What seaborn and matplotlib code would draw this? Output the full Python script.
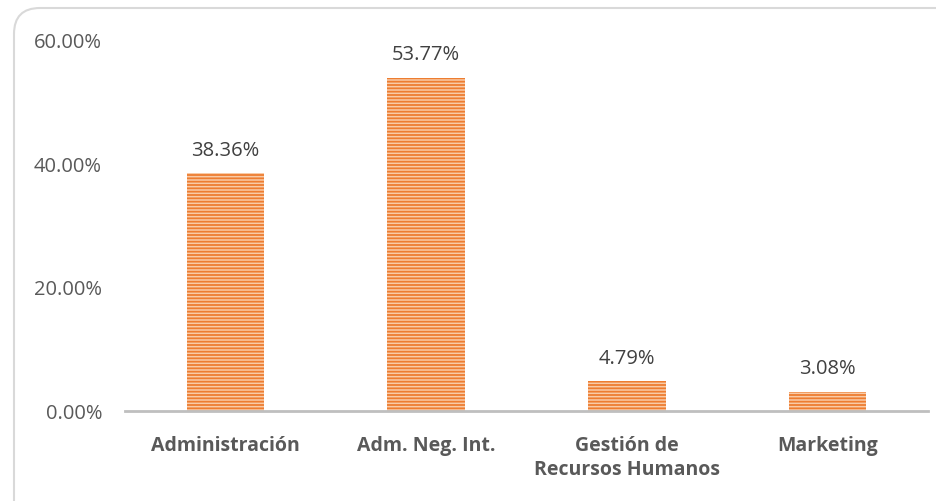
import matplotlib
matplotlib.use('Agg')
import matplotlib.pyplot as plt
import seaborn as sns
import pandas as pd
from matplotlib.patches import FancyBboxPatch
from matplotlib.transforms import IdentityTransform

carreras = ['Administración', 'Adm. Neg. Int.', 'Gestión de\nRecursos Humanos', 'Marketing']
porcentajes = [38.36, 53.77, 4.79, 3.08]
y_ticks = [0, 20, 40, 60]

sns.set_style('white')
plt.rcParams['font.family'] = ['Open Sans', 'DejaVu Sans']
plt.rcParams['hatch.linewidth'] = 1.3

df = pd.DataFrame({'Carrera': carreras, 'Porcentaje': porcentajes})

fig = plt.figure(figsize=(9.36, 5.02), dpi=100)
ax = fig.add_axes([0.1335, 0.1793, 0.858, 0.741])

sns.barplot(data=df, x='Carrera', y='Porcentaje', ax=ax, color='#F9CBA7',
            width=0.385, linewidth=0)
# franjas horizontales como en el original
for p in ax.patches:
    p.set_facecolor('#F9CBA7')
    p.set_edgecolor('#ED7D31')
    p.set_linewidth(0)
    p.set_hatch('-----')

for i, v in enumerate(porcentajes):
    ax.text(i, v + 3.0, f'{v:.2f}%', ha='center', va='baseline', fontsize=14.5, color='#404040')

ax.set_ylim(0, 60)
ax.set_xlim(-0.5, 3.5)
ax.set_yticks(y_ticks)
ax.set_yticklabels([f'{t:.2f}%' for t in y_ticks], fontsize=14.5, color='#595959')
ax.tick_params(axis='y', length=0, pad=16.5)
ax.tick_params(axis='x', length=0, pad=17)
for lbl in ax.get_xticklabels():
    lbl.set_fontweight('bold')
    lbl.set_fontsize(14)
    lbl.set_color('#595959')
    lbl.set_linespacing(1.3)
ax.set_xlabel('')
ax.set_ylabel('')

for s in ['top', 'right', 'left']:
    ax.spines[s].set_visible(False)
ax.spines['bottom'].set_color('#BFBFBF')
ax.spines['bottom'].set_linewidth(2)

border = FancyBboxPatch((14, -30), 950, 523, transform=IdentityTransform(),
                        boxstyle='round,pad=0,rounding_size=26',
                        fill=False, edgecolor='#D9D9D9', linewidth=1.5)
fig.patches.append(border)

fig.savefig('out.png', dpi=100)
